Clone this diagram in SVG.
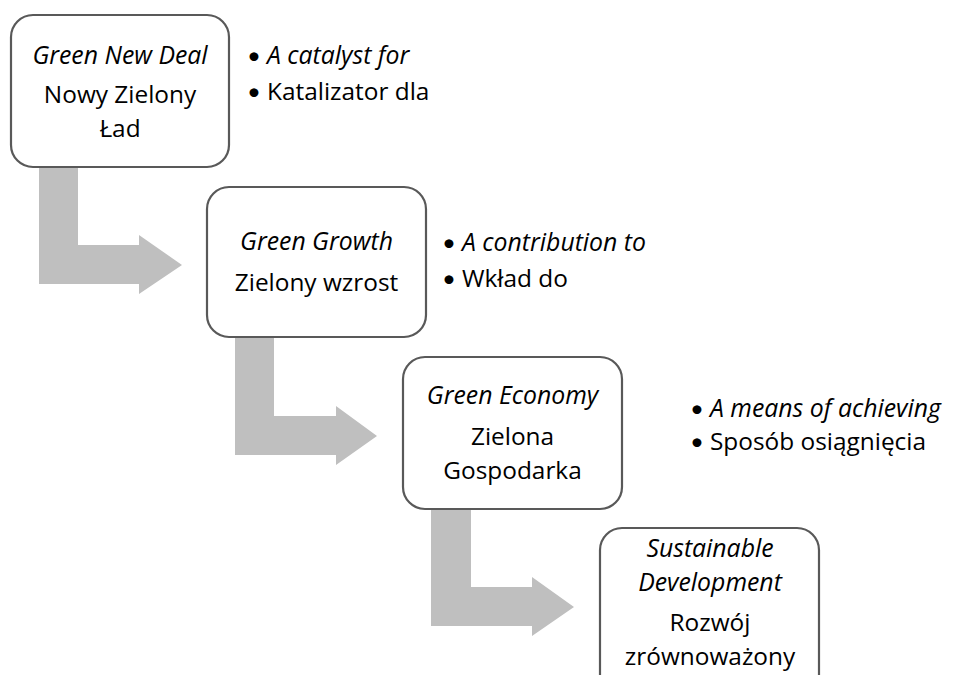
<svg xmlns="http://www.w3.org/2000/svg" width="953" height="675" viewBox="0 0 953 675">
<style>
.box{fill:#fff;stroke:#595959;stroke-width:2.2}
.arr{fill:#bfbfbf;stroke:none}
text{font-family:"Open Sans",Lato,sans-serif;font-size:24.4px;fill:#000}
.c{text-anchor:middle}
.i{font-style:italic;font-size:24.8px}
.b{text-anchor:middle;font-family:Lato,sans-serif;font-size:24px}
</style>
<rect width="953" height="675" fill="#fff"/>
<g id="connectors">
<polygon class="arr" points="39,160 78,160 78,245 139,245 139,235 182,265 139,294 139,284 39,284"/>
<polygon class="arr" points="235,330 274,330 274,416 336,416 336,406 377,436 336,465 336,455 235,455"/>
<polygon class="arr" points="431,502 471,502 471,587 532,587 532,577 574,607 532,636 532,626 431,626"/>
</g>
<g id="node1">
<rect class="box" x="11" y="15" width="218" height="152" rx="22"/>
<text class="c i" x="120" y="64">Green New Deal</text>
<text class="c" x="120" y="103">Nowy Zielony</text>
<text class="c" x="120" y="136.5">Ład</text>
</g>
<g id="notes1">
<text class="b" x="254" y="64">•</text><text class="i" x="267" y="64">A catalyst for</text>
<text class="b" x="254" y="100">•</text><text x="267" y="100">Katalizator dla</text>
</g>
<g id="node2">
<rect class="box" x="207" y="187" width="219" height="150" rx="22"/>
<text class="c i" x="316.5" y="250">Green Growth</text>
<text class="c" x="316.5" y="291">Zielony wzrost</text>
</g>
<g id="notes2">
<text class="b" x="449" y="251">•</text><text class="i" x="462" y="251">A contribution to</text>
<text class="b" x="449" y="287">•</text><text x="462" y="287">Wkład do</text>
</g>
<g id="node3">
<rect class="box" x="403" y="357" width="219" height="152" rx="22"/>
<text class="c i" x="512.5" y="404">Green Economy</text>
<text class="c" x="512.5" y="445">Zielona</text>
<text class="c" x="512.5" y="478.5">Gospodarka</text>
</g>
<g id="notes3">
<text class="b" x="697" y="417">•</text><text class="i" x="710" y="417">A means of achieving</text>
<text class="b" x="697" y="450">•</text><text x="710" y="450">Sposób osiągnięcia</text>
</g>
<g id="node4">
<rect class="box" x="600" y="528" width="219" height="170" rx="22"/>
<text class="c i" x="710" y="557">Sustainable</text>
<text class="c i" x="710" y="590.5">Development</text>
<text class="c" x="710" y="631">Rozwój</text>
<text class="c" x="710" y="664.5">zrównoważony</text>
</g>
</svg>
